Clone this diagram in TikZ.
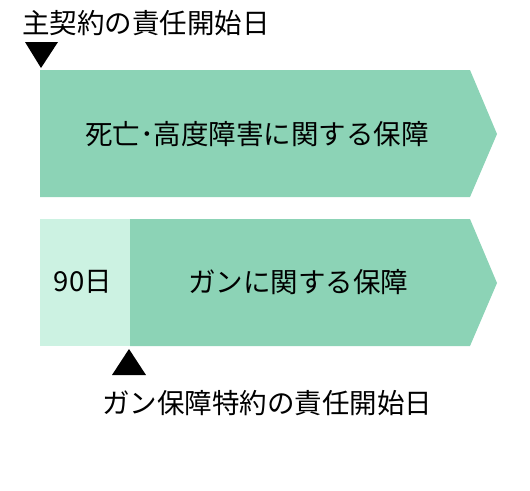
\documentclass[tikz,border=0pt]{standalone}
\usepackage{fontspec}
\setmainfont{Noto Sans CJK JP}
\usetikzlibrary{positioning}

\definecolor{coverDark}{HTML}{8CD3B6}
\definecolor{coverLight}{HTML}{CCF2E2}

\tikzset{
  label text/.style = {font=\fontsize{27.5}{32}\selectfont, inner sep=0pt, text=black},
  marker/.style = {fill=black}
}

\begin{document}
\begin{tikzpicture}[x=1pt, y=-1pt]
        \useasboundingbox (0,0) rectangle (530,490);

        \fill[coverDark] (40,70) -- (470,70) -- (497,134) -- (470,197) -- (40,197) -- cycle;
        \fill[coverLight] (40,219) rectangle (130,346);
        \fill[coverDark] (130,219) -- (470,219) -- (497,283) -- (470,346) -- (130,346) -- cycle;

        \fill[marker] (25,42) -- (58,42) -- (41,68) -- cycle;
        \fill[marker] (112,375) -- (146,375) -- (129,349) -- cycle;

        \node[label text, anchor = west] (mainStart) at (22,23) {主契約の責任開始日};
        \node[label text] (deathCover) at (257,134) {死亡･高度障害に関する保障};
        \node[label text] (waitDays) at (83,282) {90日};
        \node[label text] (cancerCover) at (298,282) {ガンに関する保障};
        \node[label text, anchor = west] (cancerStart) at (102,403) {ガン保障特約の責任開始日};
      \end{tikzpicture}
\end{document}
